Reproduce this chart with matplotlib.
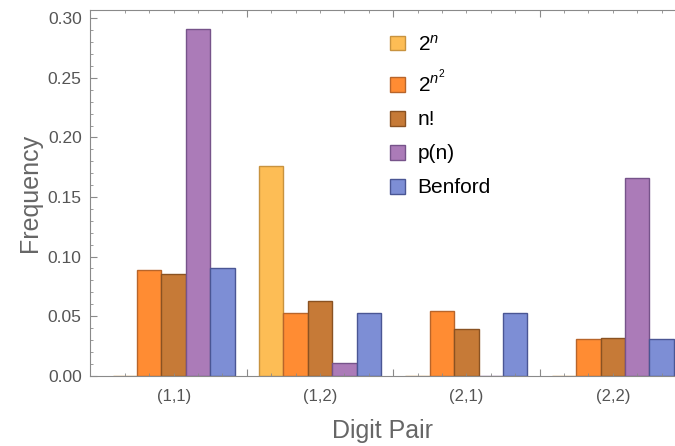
import matplotlib.pyplot as plt
import numpy as np
from matplotlib.ticker import FixedLocator, MultipleLocator, NullFormatter, FormatStrFormatter

plt.rcParams['font.family'] = ['Liberation Sans', 'DejaVu Sans']
plt.rcParams['mathtext.fontset'] = 'custom'
plt.rcParams['mathtext.rm'] = 'Liberation Sans'
plt.rcParams['mathtext.it'] = 'Liberation Sans:italic'

# digit pairs and the frequency of each sequence
pairs = ['(1,1)', '(1,2)', '(2,1)', '(2,2)']
series = [r'$2^{n}$', r'$2^{n^{2}}$', 'n!', 'p(n)', 'Benford']
pow2 = [0.0, 0.176, 0.0, 0.0]
pow2sq = [0.089, 0.053, 0.054, 0.031]
fact = [0.085, 0.063, 0.039, 0.032]
partitions = [0.291, 0.011, 0.0, 0.166]
benford = [0.090, 0.053, 0.053, 0.031]

colors = ['#FDBD55', '#FF8C33', '#C67A37', '#AB7BB8', '#7D8ED5']
edges = ['#C8933F', '#B8652A', '#8A5222', '#76538A', '#4A5694']

fig = plt.figure(figsize=(6.75, 4.46), dpi=100)
ax = fig.add_axes([0.1333, 0.1576, 0.8667, 0.82])

group = np.arange(len(pairs)) * 6
for i, vals in enumerate([pow2, pow2sq, fact, partitions, benford]):
    ax.bar(group + i, vals, width=1, align='edge', color=colors[i],
           edgecolor=edges[i], linewidth=1, label=series[i])

ax.set_xlim(-0.93, 23.05)
ax.set_ylim(0, 0.307)

# ticks: separators between groups (major), bar centres (minor)
ax.xaxis.set_major_locator(FixedLocator(list(group[1:] - 0.5)))
ax.xaxis.set_minor_locator(FixedLocator([g + i + 0.5 for g in group for i in range(5)]))
ax.xaxis.set_major_formatter(NullFormatter())
ax.yaxis.set_major_locator(MultipleLocator(0.05))
ax.yaxis.set_minor_locator(MultipleLocator(0.01))
ax.yaxis.set_major_formatter(FormatStrFormatter('%.2f'))

ax.tick_params(which='both', direction='in', top=True, right=False,
               color='#8a8a8a', labelcolor='#555555', labelsize=12.5)
ax.tick_params(which='major', length=5)
ax.tick_params(which='minor', length=2.5)
ax.tick_params(axis='y', pad=6)

for s in ax.spines.values():
    s.set_color('#8a8a8a')
ax.spines['right'].set_visible(False)

for g, lab in zip(group, pairs):
    ax.text(g + 2.5, -0.057, lab, transform=ax.get_xaxis_transform(),
            ha='center', va='center', fontsize=12, color='#555555')

ax.set_xlabel('Digit Pair', fontsize=18, color='#666666', labelpad=28)
ax.set_ylabel('Frequency', fontsize=18, color='#666666', labelpad=4)

ax.legend(loc='upper left', bbox_to_anchor=(0.481, 0.985), frameon=False,
          fontsize=15, handlelength=0.72, handleheight=0.72, handletextpad=0.6,
          labelspacing=0.72)

fig.savefig('out.png', dpi=100)
